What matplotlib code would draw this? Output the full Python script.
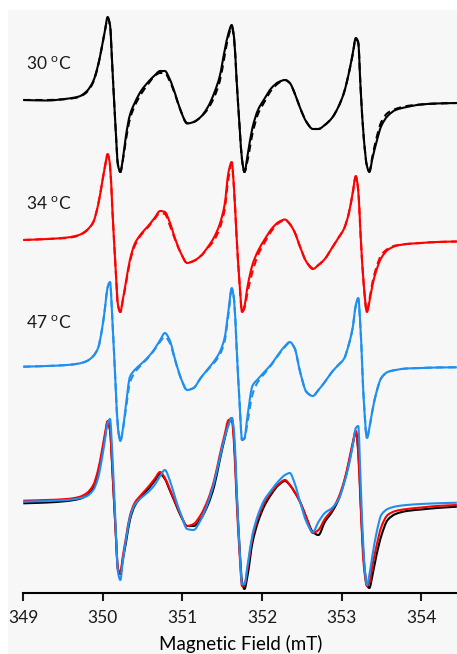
import matplotlib
matplotlib.use('Agg')
import matplotlib.pyplot as plt
import numpy as np
from matplotlib.patches import Rectangle, PathPatch
from matplotlib.path import Path

# Magnetic field grid (mT)
field = [349.00, 349.30, 349.55, 349.70, 349.80, 349.88, 349.94, 349.99, 350.03, 350.06,
         350.09, 350.12, 350.16, 350.19, 350.22, 350.25, 350.29, 350.34, 350.40, 350.48,
         350.57, 350.65, 350.72, 350.78, 350.84, 350.91, 350.98, 351.06, 351.14, 351.23,
         351.32, 351.40, 351.47, 351.53, 351.58, 351.62, 351.65, 351.68, 351.72, 351.75,
         351.78, 351.82, 351.88, 351.95, 352.03, 352.12, 352.21, 352.29, 352.35, 352.41,
         352.48, 352.56, 352.64, 352.71, 352.79, 352.88, 352.96, 353.03, 353.09, 353.14,
         353.18, 353.21, 353.24, 353.28, 353.32, 353.35, 353.39, 353.44, 353.50, 353.58,
         353.68, 353.82, 354.00, 354.20, 354.45]

# 30 C experimental / simulated
t30_exp = [0, -0.5, 1.3, 3.5, 9, 19, 35, 54, 71, 83,
           75, 32, -28, -65, -72, -60, -36, -15, -3, 9,
           18, 24.5, 29, 29, 21, 6, -11, -23.5, -22, -17,
           -7, 7, 24, 49, 67, 75, 62, 22, -28, -60,
           -72, -55, -28, -10, 1, 12, 18, 20, 17, 7,
           -8, -22, -29, -29, -25, -18, -7, 7, 26, 46,
           62, 58, 12, -38, -66, -72, -58, -42, -26, -16,
           -10, -7, -4.5, -3.5, -3]
t30_fit = [0, 0, 1, 3, 8, 18, 34, 54, 71, 82,
           74, 32, -28, -65, -72, -61, -40, -19, -6, 6,
           16, 24, 27, 27, 19, 5, -11, -23, -22, -17,
           -9, 3, 19, 44, 64, 73, 61, 22, -28, -60,
           -72, -60, -34, -14, -2, 10, 17, 20, 17, 7,
           -8, -22, -29, -29, -25, -18, -7, 7, 26, 45,
           61, 57, 12, -38, -66, -71, -56, -38, -22, -13,
           -9, -6, -4.5, -3.5, -3]

# 34 C
t34_exp = [0, 1, 2.5, 5, 10, 18, 35, 57, 75, 86,
           75, 30, -28, -65, -72, -60, -42, -20, -4, 6,
           14, 22, 29, 28, 18, 1, -13, -23, -21, -16,
           -7, 3, 16, 35, 68, 78, 50, 5, -45, -72,
           -66, -46, -25, -11, 0, 11, 18, 20.5, 16, 8,
           -7, -22, -29, -25, -19, -8, 2, 11, 26, 47,
           64, 50, 5, -45, -72, -62, -45, -30, -18, -10,
           -6, -4, -3, -2, -1.5]
t34_fit = [0, 1, 2, 4.5, 9.5, 18, 35, 57, 75, 85,
           74, 30, -28, -65, -72, -61, -44, -22, -6, 5,
           13, 21, 27, 26, 15, 0, -13, -23, -21, -16,
           -8, 0, 12, 30, 62, 76, 50, 5, -45, -72,
           -68, -52, -32, -15, -3, 9, 17, 20, 16, 8,
           -7, -22, -28, -25, -19, -8, 2, 11, 26, 46,
           63, 50, 5, -45, -72, -60, -42, -27, -15, -9,
           -5.5, -4, -3, -2, -1.5]

# 47 C
t47_exp = [0, 0.7, 1.7, 3.2, 5.7, 10.7, 18.7, 37.7, 60.7, 79.7,
           84.7, 46.7, -18.3, -61.3, -74.3, -63.3, -38.3, -10.3, -3.3, 2.7,
           9.7, 17.7, 26.7, 33.7, 26.7, 6.7, -11.3, -23.3, -21.3, -11.3,
           -2.3, 5.7, 14.7, 28.7, 56.7, 78.7, 66.7, 21.7, -38.3, -73.3,
           -71.3, -48.3, -19.3, -12.3, -5.3, 2.7, 12.7, 20.7, 24.7, 18.7,
           -5.3, -25.3, -29.3, -23.3, -15.3, -5.3, 1.7, 7.7, 21.7, 38.7,
           61.7, 68.7, 36.7, -33.3, -71.3, -61.3, -43.3, -25.3, -11.3, -5.3,
           -3.3, -1.8, -1.3, -0.8, -0.6]
t47_fit = [0, 0.7, 1.7, 3.2, 5.7, 10.7, 18.7, 37.7, 60.7, 79,
           84, 46.7, -18.3, -61.3, -74.3, -64, -42, -16, -6, 1.5,
           9, 17, 25, 30, 24, 6, -11.3, -23.3, -21.3, -11.3,
           -3, 4, 12, 25, 53, 77, 66.7, 21.7, -38.3, -73.3,
           -72, -55, -28, -15, -7, 2, 12, 20, 24, 18.7,
           -5.3, -25.3, -29.3, -23.3, -15.3, -5.3, 1.7, 7.7, 21.7, 38.7,
           61, 68, 36.7, -33.3, -71.3, -61.3, -43.3, -25.3, -11.3, -5.3,
           -3.3, -1.8, -1.3, -0.8, -0.6]

# Overlaid simulations
sim_black = [-1.3, -0.5, 1, 3, 6.5, 14, 29, 49, 67, 80,
             72, 32, -28, -68, -72, -58, -41, -18, -4, 5,
             13, 21, 28, 23, 12, -1, -14, -24, -24, -17,
             -3, 16, 42, 63, 78, 84, 62, 12, -48, -80,
             -87, -73, -41, -20, -4, 8, 17, 21, 17, 10,
             0, -16, -30, -33, -20, -10, 2, 19, 38, 57,
             70, 52, 2, -58, -83, -86, -73, -53, -34, -18,
             -12, -9, -7.5, -6, -4.7]
sim_red = [1.3, 2, 3, 5, 9, 17, 32, 52, 70, 81,
           72, 32, -28, -66, -71, -55, -36, -14, -1, 7,
           15, 23, 30, 24, 13, 0, -13, -24, -22, -13,
           2, 22, 47, 67, 82, 83, 57, 5, -53, -84,
           -83, -66, -36, -16, -1, 10, 18, 22, 17, 10,
           0, -16, -31, -28, -17, -8, 4, 20, 40, 59,
           71, 50, -3, -63, -84, -81, -63, -44, -25, -13,
           -9, -7, -5.5, -4, -3]
sim_blue = [0.3, 1, 2, 3.5, 6, 12, 24, 44, 64, 79,
            83, 47, -23, -70, -78, -60, -38, -16, -3, 4,
            10, 17, 26, 32, 22, 4, -12, -27, -28, -18,
            -1, 20, 44, 64, 77, 84, 70, 17, -48, -82,
            -82, -63, -33, -13, 2, 12, 21, 27, 29, 19,
            0, -20, -30, -20, -11, -6, 2, 18, 36, 56,
            74, 76, 22, -53, -83, -73, -53, -31, -13, -7,
            -4.5, -3, -2, -1.3, -0.7]

labels = ['30 $^{\\mathrm{o}}$C', '34 $^{\\mathrm{o}}$C', '47 $^{\\mathrm{o}}$C']
xlabel = 'Magnetic Field (mT)'
ticks = [349, 350, 351, 352, 353, 354]

plt.rcParams['font.family'] = ['Lato', 'DejaVu Sans']
plt.rcParams['mathtext.fontset'] = 'custom'
plt.rcParams['mathtext.rm'] = 'Lato'
plt.rcParams['mathtext.it'] = 'Lato:italic'


def smooth_trace(ax, x, y, **kw):
    """Draw a line through (x, y) as a shape-preserving cubic Bezier path."""
    x = np.asarray(x, float)
    y = np.asarray(y, float)
    h = np.diff(x)
    d = np.diff(y) / h
    n = len(x)
    m = np.zeros(n)
    for i in range(1, n - 1):
        if d[i - 1] * d[i] > 0:
            w1 = 2 * h[i] + h[i - 1]
            w2 = h[i] + 2 * h[i - 1]
            m[i] = (w1 + w2) / (w1 / d[i - 1] + w2 / d[i])
    m[0] = d[0]
    m[-1] = d[-1]
    verts = [(x[0], y[0])]
    codes = [Path.MOVETO]
    for i in range(n - 1):
        verts += [(x[i] + h[i] / 3, y[i] + m[i] * h[i] / 3),
                  (x[i + 1] - h[i] / 3, y[i + 1] - m[i + 1] * h[i] / 3),
                  (x[i + 1], y[i + 1])]
        codes += [Path.CURVE4] * 3
    ax.add_patch(PathPatch(Path(verts, codes), fill=False, joinstyle='round',
                           capstyle='butt', **kw))


W, H = 457, 654
fig = plt.figure(figsize=(W / 100, H / 100), dpi=100)
fig.patch.set_facecolor('white')
fig.add_artist(Rectangle((8 / W, 0), 1, 644 / H, transform=fig.transFigure,
                         facecolor='#f7f7f7', edgecolor='none', zorder=-10))
ax = fig.add_axes([23.3 / W, 61 / H, (W - 23.3) / W, 583 / H])
ax.patch.set_alpha(0)

f = np.array(field)
blue = '#1e8ff0'
red = '#ff0000'
lw = 1.5
dash = (0, (3.5, 2.2))
off30, off34, off47, offsim = 493, 353, 226.3, 91

smooth_trace(ax, f, off30 + np.array(t30_fit), edgecolor='black', lw=lw, ls=dash)
smooth_trace(ax, f, off30 + np.array(t30_exp), edgecolor='black', lw=lw)
smooth_trace(ax, f, off34 + np.array(t34_fit), edgecolor=red, lw=lw, ls=dash)
smooth_trace(ax, f, off34 + np.array(t34_exp), edgecolor=red, lw=lw)
smooth_trace(ax, f, off47 + np.array(t47_fit), edgecolor=blue, lw=lw, ls=dash)
smooth_trace(ax, f, off47 + np.array(t47_exp), edgecolor=blue, lw=lw)

smooth_trace(ax, f, offsim + np.array(sim_black), edgecolor='black', lw=lw)
smooth_trace(ax, f, offsim + np.array(sim_red), edgecolor=red, lw=lw)
smooth_trace(ax, f, offsim + np.array(sim_blue), edgecolor=blue, lw=lw)

for lab, yy in zip(labels, [530, 389.7, 270.3]):
    ax.text(349.034, yy, lab, fontsize=12.5, ha='left', va='center', color='#1a1a1a')

ax.set_xlim(349, 349 + (W - 23.3) / 79.55)
ax.set_ylim(0, 583)
for s in ['left', 'right', 'top']:
    ax.spines[s].set_visible(False)
ax.spines['bottom'].set_linewidth(1.5)
ax.set_yticks([])
ax.set_xticks(ticks)
ax.set_xticklabels([str(t) for t in ticks])
ax.tick_params(axis='x', direction='out', length=6, width=1.5, labelsize=12.5, pad=6,
               colors='#1a1a1a')
ax.set_xlabel(xlabel, fontsize=13.5)
ax.xaxis.set_label_coords(0.502, -0.087)
ax.xaxis.label.set_verticalalignment('center')

fig.savefig('out.png', dpi=100)
